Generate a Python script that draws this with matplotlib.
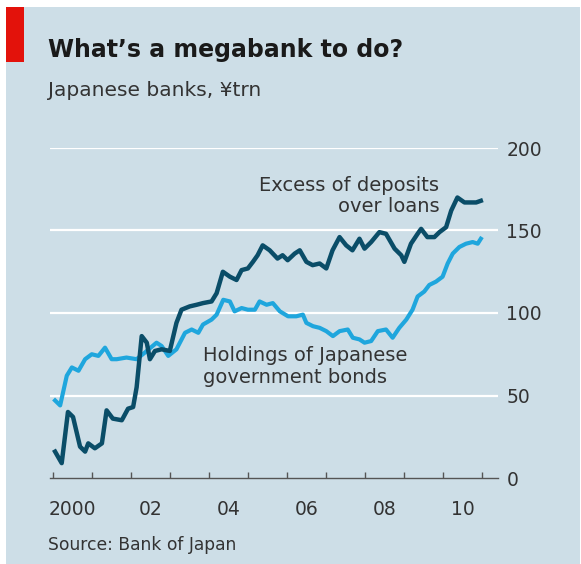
import matplotlib
matplotlib.use("Agg")
from matplotlib import pyplot as plt
from matplotlib.patches import Rectangle

# Excess of deposits over loans, ¥trn (decimal year, value)
excess_years = [2000.05, 2000.22, 2000.38, 2000.51, 2000.69, 2000.82, 2000.90, 2001.07,
                2001.25, 2001.37, 2001.53, 2001.76, 2001.92, 2002.05, 2002.14, 2002.27,
                2002.40, 2002.48, 2002.61, 2002.78, 2002.99, 2003.16, 2003.29, 2003.50,
                2003.68, 2003.84, 2004.06, 2004.19, 2004.35, 2004.53, 2004.70, 2004.83,
                2004.99, 2005.12, 2005.24, 2005.37, 2005.55, 2005.75, 2005.88, 2006.01,
                2006.19, 2006.32, 2006.49, 2006.65, 2006.83, 2007.00, 2007.16, 2007.34,
                2007.51, 2007.67, 2007.85, 2007.98, 2008.15, 2008.36, 2008.53, 2008.75,
                2008.92, 2009.00, 2009.17, 2009.34, 2009.43, 2009.59, 2009.77, 2009.90,
                2010.07, 2010.20, 2010.36, 2010.54, 2010.71, 2010.84, 2010.96]
excess_values = [16, 9, 40, 37, 19, 16, 21, 18,
                 21, 41, 36, 35, 42, 43, 55, 86,
                 82, 72, 77, 78, 77, 94, 102, 104,
                 105, 106, 107, 112, 125, 122, 120, 126,
                 127, 131, 135, 141, 138, 133, 135, 132,
                 136, 138, 131, 129, 130, 127, 138, 146,
                 141, 138, 145, 139, 143, 149, 148, 139,
                 135, 131, 142, 148, 151, 146, 146, 149,
                 152, 162, 170, 167, 167, 167, 168]

# Holdings of Japanese government bonds, ¥trn
jgb_years = [2000.05, 2000.18, 2000.35, 2000.48, 2000.65, 2000.82, 2000.99, 2001.16,
             2001.33, 2001.50, 2001.63, 2001.88, 2002.14, 2002.35, 2002.65, 2002.78,
             2002.95, 2003.16, 2003.38, 2003.55, 2003.72, 2003.84, 2004.06, 2004.19,
             2004.36, 2004.53, 2004.65, 2004.83, 2004.99, 2005.17, 2005.29, 2005.47,
             2005.63, 2005.81, 2006.02, 2006.23, 2006.40, 2006.49, 2006.66, 2006.83,
             2007.00, 2007.17, 2007.34, 2007.55, 2007.68, 2007.85, 2007.98, 2008.15,
             2008.32, 2008.53, 2008.70, 2008.87, 2009.05, 2009.21, 2009.34, 2009.51,
             2009.64, 2009.81, 2009.98, 2010.11, 2010.24, 2010.41, 2010.58, 2010.75,
             2010.88, 2010.96]
jgb_values = [47, 44, 62, 67, 65, 72, 75, 74,
              79, 72, 72, 73, 72, 76, 82, 80,
              74, 78, 88, 90, 88, 93, 96, 99,
              108, 107, 101, 103, 102, 102, 107, 105,
              106, 101, 98, 98, 99, 94, 92, 91,
              89, 86, 89, 90, 85, 84, 82, 83,
              89, 90, 85, 91, 96, 102, 110, 113,
              117, 119, 122, 130, 136, 140, 142, 143,
              142, 145]

year_ticks = list(range(2000, 2012))
label_pos = [2000.5, 2002.5, 2004.5, 2006.5, 2008.5, 2010.5]
label_text = ["2000", "02", "04", "06", "08", "10"]
y_ticks = [0, 50, 100, 150, 200]

BG = "#cddee7"
DARK = "#0a4d68"
LIGHT = "#1fa6dd"
TXT = "#333333"

W, H = 581, 564
fig = plt.figure(figsize=(W / 100, H / 100), dpi=100)
fig.patch.set_facecolor("white")
fig.add_artist(Rectangle((6 / W, 0), 574 / W, 557 / H, transform=fig.transFigure,
                         facecolor=BG, edgecolor="none", zorder=-10))
fig.add_artist(Rectangle((6 / W, 1 - 62 / H), 18 / W, 55 / H, transform=fig.transFigure,
                         facecolor="#e3120b", edgecolor="none"))

fig.text(48 / W, 1 - 50 / H, "What\u2019s a megabank to do?", fontsize=17, fontweight="bold",
         color="#1a1a1a", va="center", ha="left")
fig.text(48 / W, 1 - 90 / H, "Japanese banks, \u00a5trn", fontsize=14.5, color=TXT,
         va="center", ha="left")
fig.text(48 / W, 1 - 545 / H, "Source: Bank of Japan", fontsize=12.3, color=TXT,
         va="center", ha="left")

ax = fig.add_axes([50 / W, 1 - 478 / H, 448 / W, 330 / H])
ax.set_facecolor("none")
ax.set_xlim(1999.92, 2011.4)
ax.set_ylim(0, 200)

for v in y_ticks[1:]:
    ax.axhline(v, color="white", lw=1.6, zorder=1)

ax.plot(jgb_years, jgb_values, color=LIGHT, lw=3, solid_joinstyle="round", zorder=3,
        clip_on=False)
ax.plot(excess_years, excess_values, color=DARK, lw=3.2, solid_joinstyle="round", zorder=4,
        clip_on=False)

ax.text(2009.9, 171, "Excess of deposits\nover loans", ha="right", va="center",
        fontsize=14, color=TXT, linespacing=1.15)
ax.text(2003.84, 67.5, "Holdings of Japanese\ngovernment bonds", ha="left", va="center",
        fontsize=14, color=TXT, linespacing=1.15)

for s in ["top", "left", "right"]:
    ax.spines[s].set_visible(False)
ax.spines["bottom"].set_color("#555555")
ax.spines["bottom"].set_linewidth(1)

ax.set_xticks(year_ticks)
ax.set_xticklabels([])
ax.tick_params(axis="x", which="major", direction="in", length=4, width=1, color="#555555")
ax.set_xticks(label_pos, minor=True)
ax.set_xticklabels(label_text, minor=True)
ax.tick_params(axis="x", which="minor", length=0, pad=16, labelsize=13.5, labelcolor=TXT)

ax.yaxis.tick_right()
ax.set_yticks(y_ticks)
ax.set_yticklabels([str(v) for v in y_ticks])
ax.tick_params(axis="y", length=0, pad=6, labelsize=13.5, labelcolor=TXT)

fig.savefig("out.png", dpi=100, facecolor=fig.get_facecolor())
